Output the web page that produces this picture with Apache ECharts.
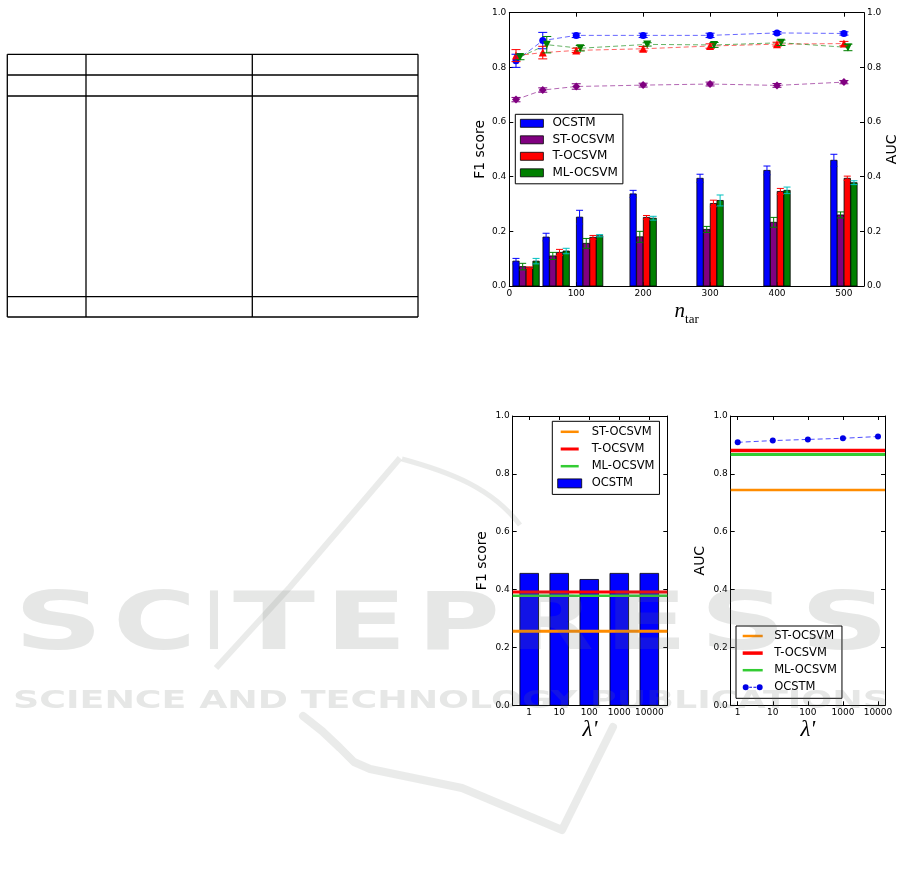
<!DOCTYPE html>
<html>
<head>
<meta charset="utf-8">
<script src="https://cdn.jsdelivr.net/npm/echarts@6/dist/echarts.min.js"></script>
<style>
html,body{margin:0;padding:0;background:#fff;}
#c{width:901px;height:884px;}
</style>
</head>
<body>
<div id="c"></div>
<script>
// ---------------- data ----------------
const methodNames = ['OCSTM', 'ST-OCSVM', 'T-OCSVM', 'ML-OCSVM'];
const nTar = [10, 50, 100, 200, 300, 400, 500];          // AUC point positions
const barGroupPos = [25, 70, 120, 200, 300, 400, 500];   // F1 bar group centres
const xTicksTop = [0, 100, 200, 300, 400, 500];
const yTicks = [0, 0.2, 0.4, 0.6, 0.8, 1.0];

const f1OCSTM    = [0.091, 0.179, 0.252, 0.337, 0.394, 0.423, 0.460];
const f1OCSTMErr = [0.010, 0.014, 0.025, 0.013, 0.015, 0.016, 0.022];
const f1ST       = [0.071, 0.110, 0.156, 0.180, 0.207, 0.233, 0.260];
const f1STErr    = [0.012, 0.013, 0.018, 0.020, 0.011, 0.018, 0.011];
const f1T        = [0.067, 0.123, 0.178, 0.251, 0.302, 0.346, 0.394];
const f1TErr     = [0.003, 0.011, 0.007, 0.007, 0.012, 0.011, 0.008];
const f1ML       = [0.091, 0.128, 0.184, 0.248, 0.313, 0.350, 0.378];
const f1MLErr    = [0.010, 0.010, 0.004, 0.007, 0.020, 0.012, 0.007];

const aucOCSTM    = [0.824, 0.898, 0.917, 0.917, 0.917, 0.926, 0.924];
const aucOCSTMErr = [0.024, 0.030, 0.008, 0.008, 0.008, 0.005, 0.006];
const aucST       = [0.682, 0.717, 0.730, 0.735, 0.739, 0.734, 0.746];
const aucSTErr    = [0.008, 0.008, 0.010, 0.007, 0.007, 0.007, 0.006];
const aucT        = [0.843, 0.854, 0.862, 0.868, 0.878, 0.885, 0.887];
const aucTErr     = [0.022, 0.023, 0.008, 0.008, 0.008, 0.007, 0.008];
const aucML       = [0.838, 0.883, 0.870, 0.884, 0.882, 0.890, 0.873];
const aucMLErr    = [0.010, 0.030, 0.010, 0.006, 0.009, 0.010, 0.012];

const lambdaLabels = ['1', '10', '100', '1000', '10000'];
const lambdaPos = [0, 1, 2, 3, 4];
const lamF1OCSTM  = [0.456, 0.456, 0.435, 0.456, 0.456];
const lamAucOCSTM = [0.909, 0.915, 0.919, 0.923, 0.929];
const baseF1ST = 0.256, baseF1T = 0.392, baseF1ML = 0.379;
const baseAucST = 0.744, baseAucT = 0.881, baseAucML = 0.867;

// ---------------- style ----------------
const C_BLUE = '#0000ff', C_PURPLE = '#800080', C_RED = '#ff0000', C_GREEN = '#008000', C_CYAN = '#00bfbf';
const C_ORANGE = '#ff8c00', C_LIME = '#33cc33';
const FONT = 'DejaVu Sans';

function mkAxis(o) {
  return {
    type: 'value', gridIndex: o.grid, position: o.pos, min: o.min, max: o.max,
    axisLine: {show: true, onZero: false, lineStyle: {color: '#000', width: 1}},
    axisTick: {show: true, inside: true, length: 4, customValues: o.ticks, lineStyle: {color: '#000', width: 1}},
    axisLabel: {show: !!o.labels, customValues: o.ticks, formatter: o.fmt, color: '#000',
                fontSize: 9, fontFamily: FONT, margin: 3},
    splitLine: {show: false},
    name: o.name || '', nameLocation: 'middle', nameGap: o.nameGap || 0, nameRotate: o.nameRotate,
    nameTextStyle: o.nameStyle || {}
  };
}
const yFmt = v => v.toFixed(1);
const nameStyleY = {fontSize: 14, fontFamily: FONT, color: '#000'};

function barRender(offset, halfW, color) {
  return function (params, api) {
    const x = api.value(0) + offset, y = api.value(1);
    const a = api.coord([x - halfW, y]), b = api.coord([x + halfW, 0]);
    return {type: 'rect', shape: {x: a[0], y: a[1], width: b[0] - a[0], height: b[1] - a[1]},
            style: {fill: color, stroke: '#000', lineWidth: 0.8}};
  };
}
function errRender(offset, cap, color, lw) {
  return function (params, api) {
    const x = api.value(0) + offset, v = api.value(1), e = api.value(2);
    const t = api.coord([x, v + e]), b = api.coord([x, v - e]);
    const st = {stroke: color, lineWidth: lw};
    return {type: 'group', children: [
      {type: 'line', shape: {x1: t[0], y1: t[1], x2: b[0], y2: b[1]}, style: st},
      {type: 'line', shape: {x1: t[0] - cap, y1: t[1], x2: t[0] + cap, y2: t[1]}, style: st},
      {type: 'line', shape: {x1: b[0] - cap, y1: b[1], x2: b[0] + cap, y2: b[1]}, style: st}
    ]};
  };
}

const series = [];
// ---- top chart: F1 bars ----
const f1Sets = [[f1OCSTM, f1OCSTMErr], [f1ST, f1STErr], [f1T, f1TErr], [f1ML, f1MLErr]];
const barColors = [C_BLUE, C_PURPLE, C_RED, C_GREEN];
const barErrColors = [C_BLUE, C_GREEN, C_RED, C_CYAN];
const barOffsets = [-15, -5, 5, 15];
f1Sets.forEach((s, k) => {
  series.push({
    type: 'custom', name: methodNames[k], xAxisIndex: 0, yAxisIndex: 0, z: 2,
    itemStyle: {color: barColors[k]},
    data: barGroupPos.map((x, i) => [x, s[0][i]]),
    encode: {x: 0, y: 1},
    renderItem: barRender(barOffsets[k], 4.75, barColors[k])
  });
  series.push({
    type: 'custom', name: methodNames[k] + ' F1 err', xAxisIndex: 0, yAxisIndex: 0, z: 3,
    data: barGroupPos.map((x, i) => [x, s[0][i], s[1][i]]),
    encode: {x: 0, y: 1},
    renderItem: errRender(barOffsets[k], 3.5, barErrColors[k], 1)
  });
});
// ---- top chart: AUC lines ----
const aucSets = [[aucOCSTM, aucOCSTMErr], [aucST, aucSTErr], [aucT, aucTErr], [aucML, aucMLErr]];
const lineColors = [C_BLUE, C_PURPLE, C_RED, C_GREEN];
const lineSymbols = ['circle', 'diamond', 'triangle', 'path://M0,0L10,0L5,10Z'];
const lineSymSizes = [7, 8, 8, 8];
const lineOffsets = [0, 0, 0, 6];
aucSets.forEach((s, k) => {
  series.push({
    type: 'line', name: methodNames[k] + ' AUC', xAxisIndex: 0, yAxisIndex: 1, z: 4,
    data: nTar.map((x, i) => [x + lineOffsets[k], s[0][i]]),
    symbol: lineSymbols[k], symbolSize: lineSymSizes[k], showSymbol: true,
    itemStyle: {color: lineColors[k], opacity: 1},
    lineStyle: {color: lineColors[k], width: 1, type: [5, 3], opacity: 0.6},
    animation: false
  });
  series.push({
    type: 'custom', name: methodNames[k] + ' AUC err', xAxisIndex: 0, yAxisIndex: 1, z: 5,
    data: nTar.map((x, i) => [x + lineOffsets[k], s[0][i], s[1][i]]),
    encode: {x: 0, y: 1},
    renderItem: errRender(0, 4.5, lineColors[k], 1)
  });
});

// ---- bottom-left: F1 vs lambda ----
const bl = {min: -0.55, max: 4.6};
series.push({
  type: 'custom', name: 'OCSTM#1', xAxisIndex: 2, yAxisIndex: 2, z: 2,
  itemStyle: {color: C_BLUE},
  data: lambdaPos.map((x, i) => [x, lamF1OCSTM[i]]),
  encode: {x: 0, y: 1},
  renderItem: barRender(0, 0.31, C_BLUE)
});
[['ST-OCSVM#1', baseF1ST, C_ORANGE, 3], ['T-OCSVM#1', baseF1T, C_RED, 3], ['ML-OCSVM#1', baseF1ML, C_LIME, 2.5]]
  .forEach(([nm, v, col, w]) => {
    series.push({
      type: 'line', name: nm, xAxisIndex: 2, yAxisIndex: 2, z: 3, symbol: 'none',
      data: [[bl.min, v], [bl.max, v]],
      itemStyle: {color: col}, lineStyle: {color: col, width: w}, animation: false
    });
  });

// ---- bottom-right: AUC vs lambda ----
const br = {min: -0.2, max: 4.2};
[['ST-OCSVM#2', baseAucST, C_ORANGE, 2.5], ['T-OCSVM#2', baseAucT, C_RED, 3.5], ['ML-OCSVM#2', baseAucML, C_LIME, 3]]
  .forEach(([nm, v, col, w]) => {
    series.push({
      type: 'line', name: nm, xAxisIndex: 4, yAxisIndex: 4, z: 3, symbol: 'none',
      data: [[br.min, v], [br.max, v]],
      itemStyle: {color: col}, lineStyle: {color: col, width: w}, animation: false
    });
  });
series.push({
  type: 'line', name: 'OCSTM#2', xAxisIndex: 4, yAxisIndex: 4, z: 4,
  data: lambdaPos.map((x, i) => [x, lamAucOCSTM[i]]),
  symbol: 'circle', symbolSize: 6, showSymbol: true,
  itemStyle: {color: '#0000e6'},
  lineStyle: {color: C_BLUE, width: 1, type: [5, 3], opacity: 0.7}, animation: false
});

// ---------------- axes ----------------
const lamFmt = v => lambdaLabels[Math.round(v)];
const xAxes = [
  mkAxis({grid: 0, pos: 'bottom', min: 0, max: 530, ticks: xTicksTop, labels: true, fmt: v => String(v),
          name: '{n|n}{t|tar}', nameGap: 14,
          nameStyle: {rich: {
            n: {fontFamily: 'Liberation Serif', fontStyle: 'italic', fontSize: 21, color: '#000', lineHeight: 22},
            t: {fontFamily: 'Liberation Serif', fontSize: 13, color: '#000', lineHeight: 22, verticalAlign: 'bottom', padding: [0, 0, -4, 0]}
          }}}),
  mkAxis({grid: 0, pos: 'top', min: 0, max: 530, ticks: xTicksTop, labels: false}),
  mkAxis({grid: 1, pos: 'bottom', min: bl.min, max: bl.max, ticks: lambdaPos, labels: true, fmt: lamFmt,
          name: "λ'", nameGap: 11,
          nameStyle: {fontFamily: 'Liberation Serif', fontStyle: 'italic', fontSize: 23, color: '#000'}}),
  mkAxis({grid: 1, pos: 'top', min: bl.min, max: bl.max, ticks: lambdaPos, labels: false}),
  mkAxis({grid: 2, pos: 'bottom', min: br.min, max: br.max, ticks: lambdaPos, labels: true, fmt: lamFmt,
          name: "λ'", nameGap: 11,
          nameStyle: {fontFamily: 'Liberation Serif', fontStyle: 'italic', fontSize: 23, color: '#000'}}),
  mkAxis({grid: 2, pos: 'top', min: br.min, max: br.max, ticks: lambdaPos, labels: false})
];
const yAxes = [
  mkAxis({grid: 0, pos: 'left', min: 0, max: 1, ticks: yTicks, labels: true, fmt: yFmt,
          name: 'F1 score', nameGap: 22, nameRotate: 90, nameStyle: nameStyleY}),
  mkAxis({grid: 0, pos: 'right', min: 0, max: 1, ticks: yTicks, labels: true, fmt: yFmt,
          name: 'AUC', nameGap: 21, nameRotate: 90, nameStyle: nameStyleY}),
  mkAxis({grid: 1, pos: 'left', min: 0, max: 1, ticks: yTicks, labels: true, fmt: yFmt,
          name: 'F1 score', nameGap: 23, nameRotate: 90, nameStyle: nameStyleY}),
  mkAxis({grid: 1, pos: 'right', min: 0, max: 1, ticks: yTicks, labels: false}),
  mkAxis({grid: 2, pos: 'left', min: 0, max: 1, ticks: yTicks, labels: true, fmt: yFmt,
          name: 'AUC', nameGap: 23, nameRotate: 90, nameStyle: nameStyleY}),
  mkAxis({grid: 2, pos: 'right', min: 0, max: 1, ticks: yTicks, labels: false})
];

// ---------------- legends ----------------
const legText = (fs, padL) => ({fontSize: fs, fontFamily: FONT, color: '#000', padding: [0, 0, 0, padL]});
const strip = n => n.split('#')[0];
const legBase = {orient: 'vertical', selectedMode: false, backgroundColor: '#fff',
                 borderColor: '#000', borderWidth: 1, borderRadius: 0, symbolKeepAspect: true};
// line swatch icons: invisible moveTo corners fix the box, the bar gives the stroke thickness
const lineIcon = (w, h, x0, len, th) => 'path://M0,0M' + w + ',' + h + 'M' + x0 + ',' + ((h - th) / 2) +
  'h' + len + 'v' + th + 'h-' + len + 'z';
const legends = [
  Object.assign({}, legBase, {
    left: 515.3, top: 114.3, itemWidth: 23, itemHeight: 8, itemGap: 4.5,
    padding: [3, 5, 5, 4.7], textStyle: legText(12, 4),
    data: methodNames.map(n => ({name: n, icon: 'rect', itemStyle: {borderColor: '#000', borderWidth: 0.8}}))
  }),
  Object.assign({}, legBase, {
    left: 552.3, top: 421.3, itemWidth: 24, itemHeight: 9, itemGap: 5.2, formatter: strip,
    padding: [4.5, 5, 5, 5], textStyle: legText(11.5, 5),
    data: [{name: 'ST-OCSVM#1', icon: lineIcon(24, 9, 3, 18, 2.5)},
           {name: 'T-OCSVM#1', icon: lineIcon(24, 9, 3, 18, 3)},
           {name: 'ML-OCSVM#1', icon: lineIcon(24, 9, 3, 18, 2.5)},
           {name: 'OCSTM#1', icon: 'rect', itemStyle: {borderColor: '#000', borderWidth: 0.8}}]
  }),
  Object.assign({}, legBase, {
    left: 736, top: 626, itemWidth: 20, itemHeight: 8, itemGap: 5.1, formatter: strip,
    padding: [4, 5, 5, 6.7], textStyle: legText(11.5, 6.5),
    data: [{name: 'ST-OCSVM#2', icon: lineIcon(20, 8, 0, 20, 2.5)},
           {name: 'T-OCSVM#2', icon: lineIcon(20, 8, 0, 20, 3.5)},
           {name: 'ML-OCSVM#2', icon: lineIcon(20, 8, 0, 20, 2.5)},
           {name: 'OCSTM#2',
            icon: 'path://M0,0M20,8M0,4a3,3 0 1,0 6,0a3,3 0 1,0 -6,0z M14,4a3,3 0 1,0 6,0a3,3 0 1,0 -6,0z M6.5,3.5h2.8v1h-2.8z M10.7,3.5h2.8v1h-2.8z'}]
  })
];

// ---------------- decorations: empty table + watermark ----------------
const graphics = [];
const tblX = [7.3, 86, 252.3, 418], tblY = [54.3, 75, 96, 296.7, 317];
tblX.forEach(x => graphics.push({type: 'line', silent: true, z: 1,
  shape: {x1: x, y1: tblY[0], x2: x, y2: tblY[tblY.length - 1]}, style: {stroke: '#000', lineWidth: 1.3}}));
tblY.forEach(y => graphics.push({type: 'line', silent: true, z: 1,
  shape: {x1: tblX[0], y1: y, x2: tblX[tblX.length - 1], y2: y}, style: {stroke: '#000', lineWidth: 1.3}}));

const ctx = document.createElement('canvas').getContext('2d');
function textW(str, font) { ctx.font = font; return ctx.measureText(str).width; }
const WM = 'rgba(105,112,105,0.17)';
const bigFont = 'bold 80px "DejaVu Sans"';
const wmLetters = [['S', 14, 103], ['C', 113, 196], ['I', 206, 222], ['T', 233, 315], ['E', 325, 407],
                   ['P', 417, 500], ['R', 510, 594], ['E', 604, 688], ['S', 700, 786], ['S', 800, 889]];
wmLetters.forEach(([ch, l, r]) => {
  const w = textW(ch, bigFont);
  graphics.push({type: 'text', silent: true, z: 50, x: l, y: 628, scaleX: (r - l) / w, originX: 0, originY: 0,
    style: {text: ch, font: bigFont, fill: WM, align: 'left', verticalAlign: 'middle'}});
});
const smallFont = 'bold 25.6px "DejaVu Sans"';
const subTxt = 'SCIENCE AND TECHNOLOGY PUBLICATIONS';
graphics.push({type: 'text', silent: true, z: 50, x: 13, y: 701.5, scaleX: 876 / textW(subTxt, smallFont),
  style: {text: subTxt, font: smallFont, fill: WM, align: 'left', verticalAlign: 'middle'}});
const WMS = 'rgba(105,112,105,0.14)';
graphics.push({type: 'polyline', silent: true, z: 50, shape: {points: [[216, 668], [290, 587], [400, 458]]},
  style: {stroke: WMS, lineWidth: 6, fill: null, lineJoin: 'round'}});
graphics.push({type: 'bezierCurve', silent: true, z: 50,
  shape: {x1: 402, y1: 459, cpx1: 450, cpy1: 472, cpx2: 492, cpy2: 488, x2: 520, y2: 525},
  style: {stroke: WMS, lineWidth: 5, fill: null}});
graphics.push({type: 'polyline', silent: true, z: 50,
  shape: {points: [[303, 716], [322, 731], [340, 748], [354, 762], [370, 769], [462, 788], [562, 830], [613, 727]]},
  style: {stroke: WMS, lineWidth: 8, fill: null, lineJoin: 'round', lineCap: 'round'}});

// ---------------- chart ----------------
const chart = echarts.init(document.getElementById('c'), null, {renderer: 'canvas', width: 901, height: 884});
chart.setOption({
  animation: false,
  backgroundColor: '#fff',
  textStyle: {fontFamily: FONT},
  grid: [
    {left: 509.3, top: 12.7, width: 354.7, height: 273.3, outerBoundsMode: 'none', containLabel: false},
    {left: 512.7, top: 416, width: 154.6, height: 289.3, outerBoundsMode: 'none', containLabel: false},
    {left: 730.7, top: 416, width: 154.3, height: 289.3, outerBoundsMode: 'none', containLabel: false}
  ],
  xAxis: xAxes,
  yAxis: yAxes,
  legend: legends,
  series: series,
  graphic: {elements: graphics}
});
</script>
</body>
</html>
